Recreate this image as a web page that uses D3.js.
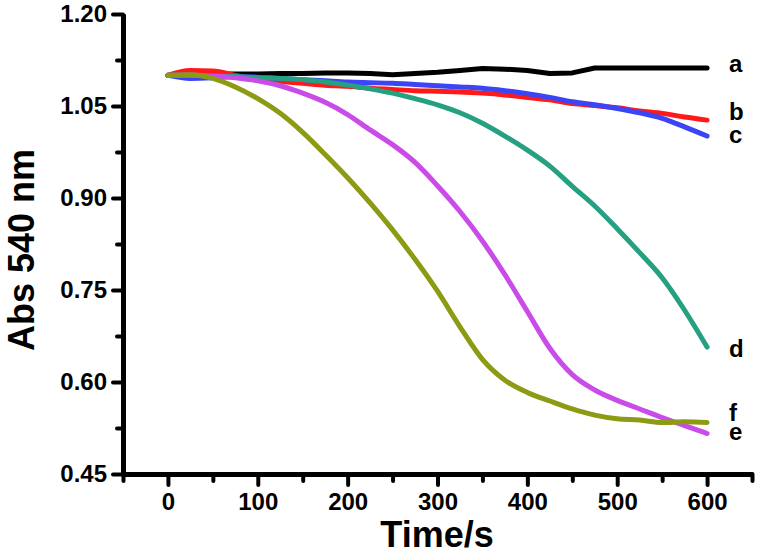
<!DOCTYPE html>
<html>
<head>
<meta charset="utf-8">
<script src="https://cdn.jsdelivr.net/npm/d3@7"></script>
<style>
  html, body { margin: 0; padding: 0; background: #fff; }
  svg { display: block; }
  text { font-family: "Liberation Sans", Arial, sans-serif; font-weight: bold; fill: #000; }
</style>
</head>
<body>
<svg id="chart" width="758" height="557"></svg>
<script>
// ---- data ----
const time = [0,25,50,75,100,125,150,175,200,225,250,275,300,325,350,375,400,425,450,475,500,525,550,575,600];
const absA = [1.100,1.101,1.102,1.102,1.102,1.103,1.103,1.104,1.104,1.103,1.101,1.103,1.105,1.108,1.111,1.110,1.108,1.103,1.104,1.112,1.112,1.112,1.112,1.112,1.112];
const absB = [1.100,1.108,1.107,1.100,1.093,1.090,1.087,1.084,1.082,1.079,1.077,1.075,1.074,1.073,1.071,1.068,1.064,1.060,1.054,1.051,1.047,1.042,1.038,1.032,1.027];
const absC = [1.100,1.095,1.096,1.098,1.097,1.095,1.093,1.091,1.089,1.088,1.087,1.085,1.083,1.081,1.079,1.075,1.070,1.064,1.057,1.052,1.046,1.039,1.030,1.016,1.001];
const absD = [1.100,1.100,1.099,1.098,1.096,1.095,1.093,1.089,1.084,1.078,1.071,1.062,1.052,1.039,1.022,1.001,0.978,0.952,0.919,0.887,0.850,0.811,0.770,0.717,0.657];
const absE = [1.100,1.100,1.099,1.096,1.091,1.083,1.071,1.056,1.036,1.011,0.987,0.958,0.920,0.878,0.830,0.775,0.715,0.655,0.612,0.587,0.570,0.556,0.542,0.529,0.516];
const absF = [1.100,1.101,1.095,1.081,1.062,1.038,1.007,0.971,0.933,0.892,0.848,0.800,0.748,0.690,0.637,0.603,0.583,0.569,0.556,0.546,0.540,0.538,0.534,0.535,0.534];
const seriesNames = ["a","b","c","d","e","f"];
const seriesColors = ["#000000","#ff1a1a","#3b45f5","#25a081","#c94ce8","#8c9a14"];
const xMajorTicks = [0,100,200,300,400,500,600];
const xMinorTicks = [-50,50,150,250,350,450,550,650];
const yMajorTicks = [0.45,0.60,0.75,0.90,1.05,1.20];
const yMinorTicks = [0.525,0.675,0.825,0.975,1.125];
const xTitle = "Time/s";
const yTitle = "Abs 540 nm";

const seriesValues = [absA, absB, absC, absD, absE, absF];

// ---- layout ----
const svg = d3.select("#chart");
const x = d3.scaleLinear().domain([-50, 650]).range([123, 752]);
const y = d3.scaleLinear().domain([0.45, 1.20]).range([474, 14]);

// series
const line = d3.line().x(d => x(d[0])).y(d => y(d[1]));
seriesValues.forEach((vals, i) => {
  const pts = time.map((t, j) => [t, vals[j]]);
  svg.append("path")
    .datum(pts)
    .attr("fill", "none")
    .attr("stroke", seriesColors[i])
    .attr("stroke-width", 5)
    .attr("stroke-linecap", "round")
    .attr("stroke-linejoin", "round")
    .attr("d", i === 0 ? line.curve(d3.curveLinear)(pts) : line.curve(d3.curveMonotoneX)(pts));
});

// axes
function styleAxis(g) {
  g.select(".domain").attr("stroke", "#000").attr("stroke-width", 5);
  g.selectAll(".tick line").attr("stroke", "#000").attr("stroke-width", 4).attr("stroke-linecap", "round");
  g.selectAll(".tick text").attr("font-size", 24).attr("font-weight", "bold")
    .attr("font-family", "'Liberation Sans', Arial, sans-serif").attr("fill", "#000");
}
svg.append("g").attr("transform", "translate(0,474)")
  .call(d3.axisBottom(x).tickValues(xMinorTicks).tickSize(7).tickSizeOuter(0).tickFormat(""))
  .call(styleAxis);
svg.append("g").attr("transform", "translate(123,0)")
  .call(d3.axisLeft(y).tickValues(yMinorTicks).tickSize(6).tickSizeOuter(0).tickFormat(""))
  .call(styleAxis);
svg.append("g").attr("transform", "translate(0,474)")
  .call(d3.axisBottom(x).tickValues(xMajorTicks).tickSize(11).tickSizeOuter(0).tickPadding(8).tickFormat(d3.format("d")))
  .call(styleAxis);
svg.append("g").attr("transform", "translate(123,0)")
  .call(d3.axisLeft(y).tickValues(yMajorTicks).tickSize(10).tickSizeOuter(0).tickPadding(6).tickFormat(d3.format(".2f")))
  .call(styleAxis);

// series labels
const labelPos = { a: 72, b: 120, c: 143, d: 357, e: 440, f: 421 };
seriesNames.forEach((n, i) => {
  svg.append("text").attr("x", 729).attr("y", labelPos[n])
    .attr("font-size", 24).text(n);
});

// titles
svg.append("text").attr("x", 437).attr("y", 547).attr("text-anchor", "middle")
  .attr("font-size", 36).text(xTitle);
svg.append("text").attr("transform", "translate(34,250) rotate(-90)")
  .attr("text-anchor", "middle").attr("font-size", 36).text(yTitle);
</script>
</body>
</html>
